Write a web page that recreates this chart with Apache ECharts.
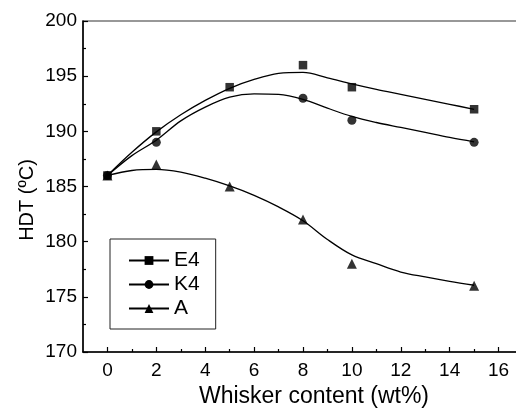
<!DOCTYPE html>
<html>
<head>
<meta charset="utf-8">
<script src="https://cdn.jsdelivr.net/npm/echarts@6/dist/echarts.min.js"></script>
<style>
  html, body { margin: 0; padding: 0; background: #fff; }
  #chart { width: 516px; height: 409px; }
</style>
</head>
<body>
<div id="chart"></div>
<script>
  // measured points
  var e4X = [0, 2, 5, 8, 10, 15];
  var e4Y = [186, 190, 194, 196, 194, 192];
  var k4X = [0, 2, 8, 10, 15];
  var k4Y = [186, 189, 193, 191, 189];
  var aX = [0, 2, 5, 8, 10, 15];
  var aY = [186, 187, 185, 182, 178, 176];

  // fitted curves at each whole wt%
  var curveX = [0, 1, 2, 3, 4, 5, 6, 7, 8, 9, 10, 11, 12, 13, 14, 15];
  var e4Curve = [186.0, 188.1, 189.95, 191.5, 192.8, 193.9, 194.7, 195.25, 195.35, 194.85, 194.3, 193.8, 193.35, 192.9, 192.45, 192.0];
  var k4Curve = [186.0, 187.8, 189.2, 190.95, 192.2, 193.1, 193.4, 193.35, 192.9, 192.1, 191.35, 190.8, 190.35, 189.9, 189.45, 189.05];
  var aCurve = [186.0, 186.45, 186.55, 186.3, 185.75, 185.05, 184.2, 183.15, 181.9, 180.2, 178.8, 178.0, 177.25, 176.8, 176.4, 176.05];

  var xMajor = [0, 2, 4, 6, 8, 10, 12, 14, 16];
  var xMinor = [1, 3, 5, 7, 9, 11, 13, 15];

  var font = '"Liberation Sans", Arial, sans-serif';

  function pairs(xs, ys) {
    var out = [];
    xs.forEach(function (x, i) { out.push([x, ys[i]]); });
    return out;
  }

  function curve(name, ys, symbol) {
    return {
      name: name,
      type: 'line',
      data: pairs(curveX, ys),
      smooth: 0.35,
      symbol: symbol,
      showSymbol: false,
      lineStyle: { color: '#000', width: 1.3 },
      itemStyle: { color: '#000' },
      z: 2
    };
  }

  function points(name, xs, ys, symbol, size) {
    return {
      name: name,
      type: 'scatter',
      data: pairs(xs, ys),
      symbol: symbol,
      symbolSize: size,
      itemStyle: { color: '#000' },
      z: 3
    };
  }

  var chart = echarts.init(document.getElementById('chart'));
  chart.setOption({
    animation: false,
    backgroundColor: '#fff',
    grid: {
      left: 83, top: 21, right: -7, bottom: 57,
      outerBoundsMode: 'none',
      show: true,
      borderColor: '#333',
      borderWidth: 1.2
    },
    legend: {
      data: ['E4', 'K4', 'A'],
      orient: 'vertical',
      left: 110,
      top: 239,
      padding: [11, 16, 10, 18],
      itemWidth: 40,
      itemHeight: 11,
      itemGap: 3,
      borderColor: '#222',
      borderWidth: 1,
      selectedMode: false,
      textStyle: { fontFamily: font, fontSize: 21, color: '#000' }
    },
    xAxis: [{
      type: 'value',
      min: -1,
      max: 17,
      splitLine: { show: false },
      axisLine: { lineStyle: { color: '#000', width: 1.5 } },
      axisTick: { inside: true, length: 5, customValues: xMajor, lineStyle: { color: '#000', width: 1.2 } },
      axisLabel: { customValues: xMajor, margin: 9, color: '#000', fontFamily: font, fontSize: 19 }
    }, {
      type: 'value',
      min: -1,
      max: 17,
      position: 'bottom',
      splitLine: { show: false },
      axisLine: { show: false },
      axisTick: { inside: true, length: 3, customValues: xMinor, lineStyle: { color: '#000', width: 1.2 } },
      axisLabel: { show: false }
    }],
    yAxis: {
      type: 'value',
      min: 170,
      max: 200,
      interval: 5,
      splitLine: { show: false },
      axisLine: { show: true, onZero: false, lineStyle: { color: '#000', width: 1.5 } },
      axisTick: { show: true, inside: true, length: 5, lineStyle: { color: '#000', width: 1.2 } },
      minorTick: { show: true, splitNumber: 2, length: 3, lineStyle: { color: '#000', width: 1.2 } },
      axisLabel: { margin: 6, color: '#000', fontFamily: font, fontSize: 19 }
    },
    graphic: [{
      type: 'text',
      x: 314, y: 397,
      style: { text: 'Whisker content (wt%)', font: '23px ' + font, fill: '#000', align: 'center', verticalAlign: 'middle' }
    }, {
      type: 'text',
      x: 27, y: 200,
      rotation: Math.PI / 2,
      style: { text: 'HDT (ºC)', font: '20px ' + font, fill: '#000', align: 'center', verticalAlign: 'middle' }
    }],
    series: [
      curve('E4', e4Curve, 'rect'),
      curve('K4', k4Curve, 'circle'),
      curve('A', aCurve, 'triangle'),
      points('E4 data', e4X, e4Y, 'rect', 8.5),
      points('K4 data', k4X, k4Y, 'circle', 9),
      points('A data', aX, aY, 'triangle', 10)
    ]
  });
</script>
</body>
</html>
